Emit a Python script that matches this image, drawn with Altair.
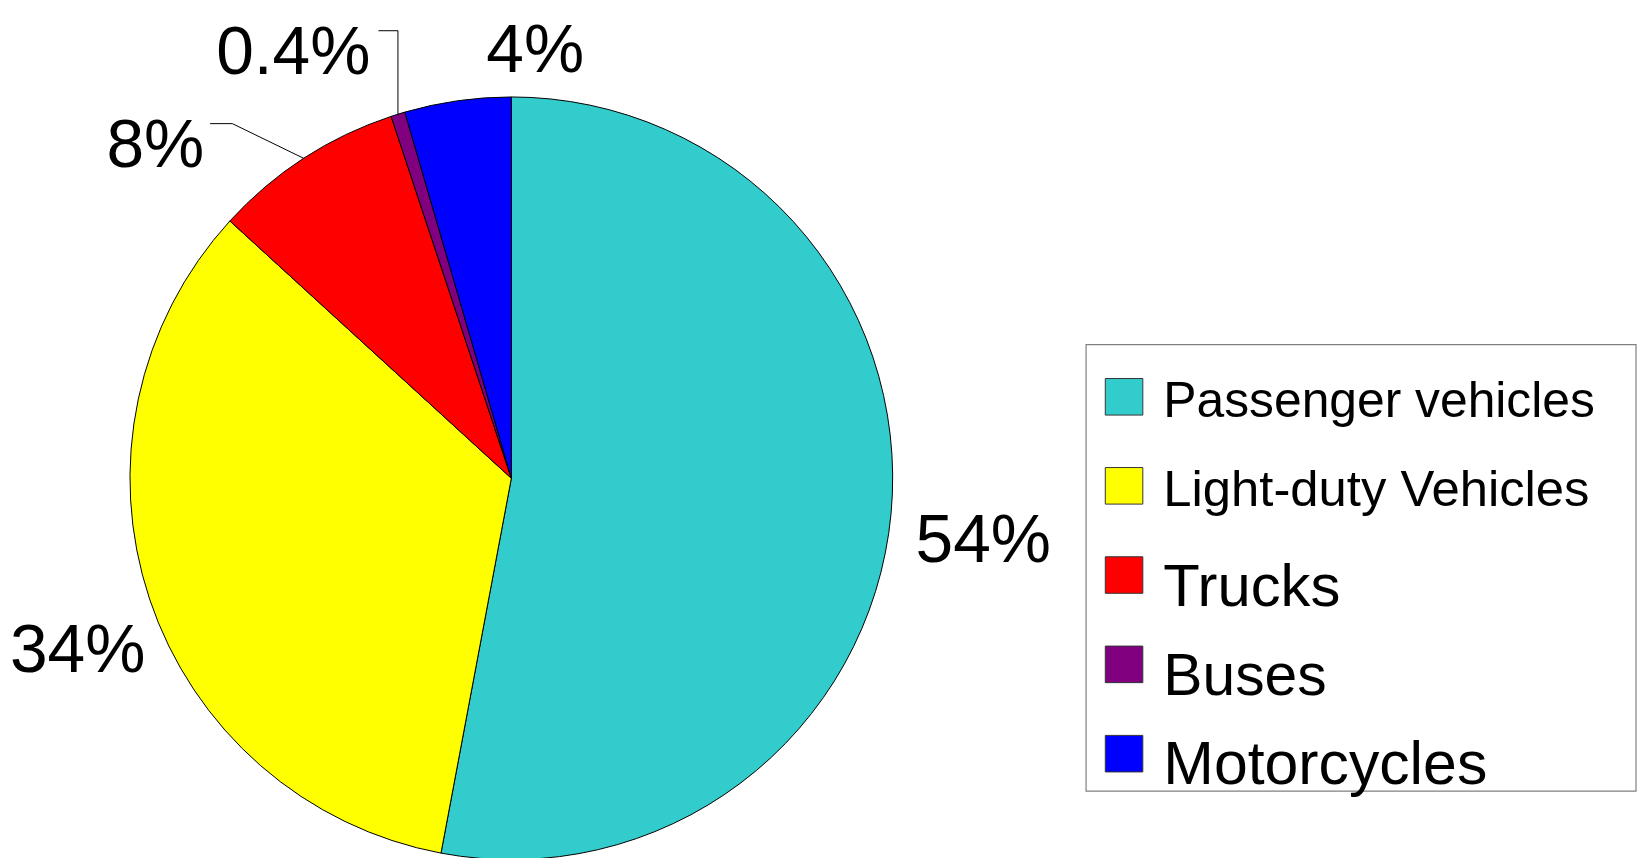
import math
import altair as alt
import pandas as pd

# ---- data ----
categories = ["Passenger vehicles", "Light-duty Vehicles", "Trucks", "Buses", "Motorcycles"]
shares = [52.9, 33.8, 8.1, 0.6, 4.5]
pct_labels = ["54%", "34%", "8%", "0.4%", "4%"]
colors = ["#33CCCC", "#FFFF00", "#FF0000", "#800080", "#0000FF"]

# ---- layout (chart pixel space; page = chart + 8) ----
W, H = 1636, 850
CX, CY, R = 505.5, 470.5, 383
label_x = [979.5, 70, 148, 286.5, 529.5]
label_y = [555, 665, 157.5, 64.5, 62]
LABEL_FONT = "Liberation Sans, Arial, sans-serif"
LEGEND_FONT = "Liberation Sans, Arial, sans-serif"

# pie
pie_df = pd.DataFrame({"category": categories, "share": shares, "idx": list(range(len(categories)))})
pie = alt.Chart(pie_df).mark_arc(radius=R, stroke="black", strokeWidth=1).encode(
    theta=alt.Theta("share:Q", stack=True),
    order=alt.Order("idx:Q"),
    color=alt.Color("category:N", scale=alt.Scale(domain=categories, range=colors), legend=None),
    x=alt.value(CX),
    y=alt.value(CY),
)

# percentage labels
lab_df = pd.DataFrame({"label": pct_labels, "px": label_x, "py": label_y})
labels = alt.Chart(lab_df).mark_text(
    font=LABEL_FONT, fontSize=68, align="center", baseline="alphabetic", color="black"
).encode(
    x=alt.X("px:Q", scale=None, axis=None),
    y=alt.Y("py:Q", scale=None, axis=None),
    text="label:N",
)

# leader lines for the small slices (end point = slice mid-angle on the rim)
total = sum(shares)
cum = 0.0
mids = []
for s in shares:
    mids.append((cum + s / 2) / total * 2 * math.pi)
    cum += s


def rim(i):
    a = mids[i]
    return CX + R * math.sin(a), CY - R * math.cos(a)


tx, ty = rim(2)
bx, by = rim(3)
lead_rows = [
    {"g": "trucks", "k": 0, "px": 203, "py": 114.3},
    {"g": "trucks", "k": 1, "px": 225.3, "py": 114.3},
    {"g": "trucks", "k": 2, "px": tx, "py": ty},
    {"g": "buses", "k": 0, "px": 372, "py": 21},
    {"g": "buses", "k": 1, "px": bx, "py": 21},
    {"g": "buses", "k": 2, "px": bx, "py": by},
]
leaders = alt.Chart(pd.DataFrame(lead_rows)).mark_line(color="black", strokeWidth=1).encode(
    x=alt.X("px:Q", scale=None, axis=None),
    y=alt.Y("py:Q", scale=None, axis=None),
    detail="g:N",
    order="k:Q",
)

# legend box
box = alt.Chart(pd.DataFrame({"a": [0]})).mark_rect(
    fill="white", stroke="#808080", strokeWidth=1.2
).encode(
    x=alt.value(1082.7), x2=alt.value(1635), y=alt.value(336.3), y2=alt.value(784.7)
)

sq_top = [370.3, 459.7, 549.3, 639.0, 728.7]
leg_df = pd.DataFrame({
    "category": categories,
    "x0": [1102.0] * 5, "x1": [1139.7] * 5,
    "y0": sq_top, "y1": [t + 36.7 for t in sq_top],
    "tx": [1160.3] * 5,
    "ty": [409.3, 498.7, 598.7, 688.0, 778.0],
    "fs": [50, 51, 60, 59, 61],
})
leg_sq = alt.Chart(leg_df).mark_rect(stroke="#333333", strokeWidth=1).encode(
    x=alt.X("x0:Q", scale=None, axis=None), x2="x1:Q",
    y=alt.Y("y0:Q", scale=None, axis=None), y2="y1:Q",
    color=alt.Color("category:N", scale=alt.Scale(domain=categories, range=colors), legend=None),
)
leg_txt = alt.Chart(leg_df).mark_text(
    font=LEGEND_FONT, align="left", baseline="alphabetic", color="black"
).encode(
    x=alt.X("tx:Q", scale=None, axis=None),
    y=alt.Y("ty:Q", scale=None, axis=None),
    text="category:N",
    size=alt.Size("fs:Q", scale=None, legend=None),
)

chart = alt.layer(pie, leaders, labels, box, leg_sq, leg_txt).properties(
    width=W, height=H, padding=0, autosize=alt.AutoSizeParams(type="none")
).configure_view(stroke=None)

chart.save("out.html", embed_options={"renderer": "svg", "actions": False})
